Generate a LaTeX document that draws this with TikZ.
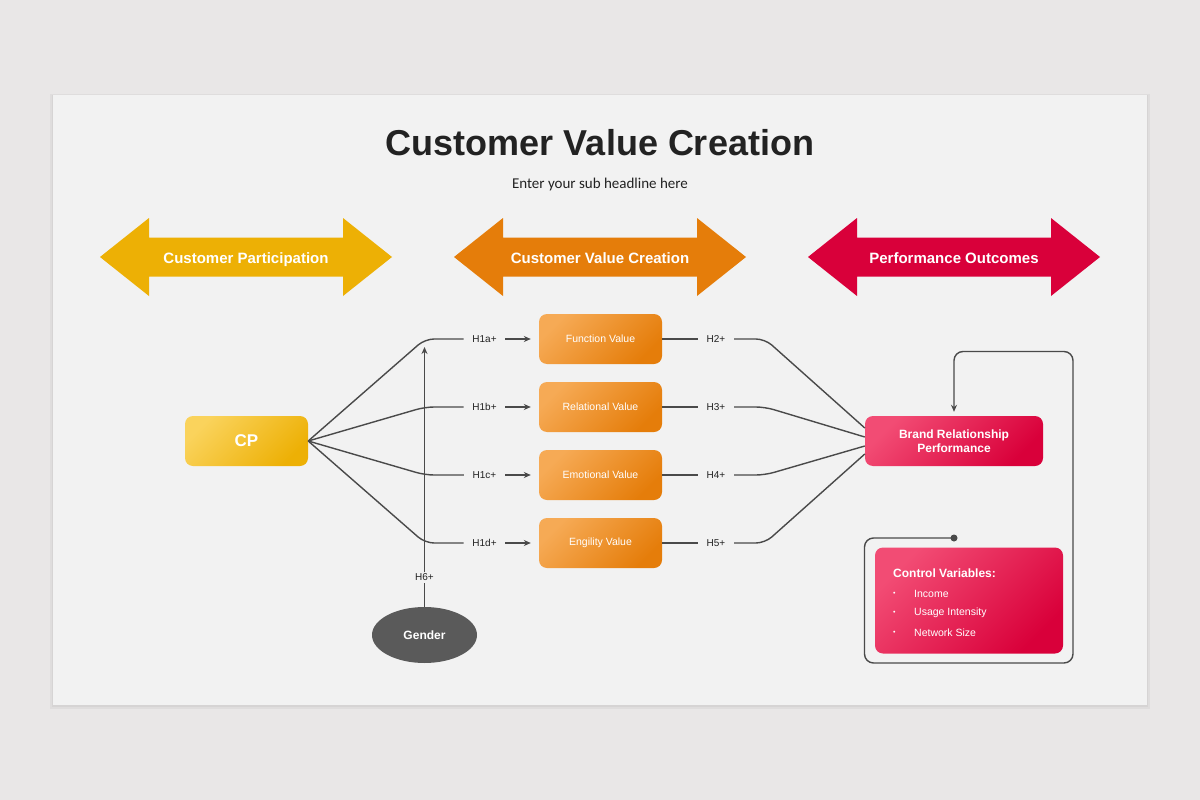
\documentclass[tikz,border=0pt]{standalone}
\usepackage{fontspec}
\setmainfont{Liberation Sans}
\newfontfamily\subfont{Carlito}
\usepackage{tikz}
\usetikzlibrary{positioning, calc, arrows.meta, shapes.geometric}
\usepackage{xcolor}
\definecolor{pagebg}{HTML}{E9E7E7}
\definecolor{cardbg}{HTML}{F2F2F2}
\definecolor{textdark}{HTML}{222222}
\definecolor{linegray}{HTML}{4A4A4A}
\definecolor{cpyel}{HTML}{EDB005}
\definecolor{cpyellt}{HTML}{FAD35C}
\definecolor{cvorg}{HTML}{E57D0A}
\definecolor{cvorglt}{HTML}{F6AA55}
\definecolor{pored}{HTML}{D9003A}
\definecolor{poredlt}{HTML}{F24C74}
\definecolor{gendergray}{HTML}{5A5A5A}

\begin{document}
\begin{tikzpicture}[
  x=1pt, y=-1pt,
  cpbox/.style={rounded corners=8pt, minimum width=123pt, minimum height=50pt, top color=cpyellt, bottom color=cpyel, shading angle=45, text=white, font=\fontsize{17}{20}\selectfont\bfseries},
  val/.style={rounded corners=8pt, minimum width=123pt, minimum height=50pt, top color=cvorglt, bottom color=cvorg, shading angle=45, text=white, font=\fontsize{10.5}{12}\selectfont},
  brp/.style={rounded corners=8pt, minimum width=178pt, minimum height=50pt, top color=poredlt, bottom color=pored, shading angle=45, text=white, align=center, font=\fontsize{12}{14}\selectfont\bfseries},
  hyp/.style={font=\fontsize{10}{12}\selectfont, text=textdark, inner sep=8.5pt},
  link/.style={draw=linegray, line width=1.4pt, rounded corners=9pt},
  cvtxt/.style={anchor=west, text=white, inner sep=0pt, font=\fontsize{10.5}{12}\selectfont},
  >={Stealth[length=7pt, width=6pt]}
]
  % Page and card
  \fill[pagebg] (0,0) rectangle (1200,800);
  \fill[black, opacity=0.04] (50,94) rectangle (1150,709);
  \fill[black, opacity=0.04] (52,95) rectangle (1148,707);
  \fill[cardbg] (53,95) rectangle (1147,705);

  % Headline
  \node[text=textdark, font=\fontsize{36}{40}\selectfont\bfseries] (title) at (600,143) {Customer Value Creation};
  \node[text=textdark, font=\subfont\fontsize{15}{18}\selectfont] (subtitle) at (600,185) {Enter your sub headline here};

  % Stage arrows
  \foreach \cx/\col/\nm/\txt in {246/cpyel/pa/Customer Participation, 600/cvorg/cva/Customer Value Creation, 954/pored/poa/Performance Outcomes} {
    \fill[\col] ({\cx-146},257) -- ({\cx-97},218) -- ({\cx-97},237.5) -- ({\cx+97},237.5) -- ({\cx+97},218)
      -- ({\cx+146},257) -- ({\cx+97},296) -- ({\cx+97},276.5) -- ({\cx-97},276.5) -- ({\cx-97},296) -- cycle;
    \node[anchor=base, text=white, font=\fontsize{15}{18}\selectfont\bfseries] (\nm) at (\cx,263.3) {\txt};
  }

  % Main blocks
  \node[cpbox] (cp) at (246.5,441) {CP};
  \node[val] (v1) at (600.5,339) {Function Value};
  \node[val] (v2) at (600.5,407) {Relational Value};
  \node[val] (v3) at (600.5,475) {Emotional Value};
  \node[val] (v4) at (600.5,543) {Engility Value};
  \node[brp] (brpbox) at (954,441) {Brand Relationship\\Performance};
  \node[ellipse, fill=gendergray, minimum width=105pt, minimum height=56pt, inner sep=0pt, text=white, font=\fontsize{12}{14}\selectfont\bfseries] (gender) at (424.5,635) {Gender};

  % Hypothesis labels
  \foreach \i/\h/\y in {1/H1a+/339, 2/H1b+/407, 3/H1c+/475, 4/H1d+/543} {
    \node[hyp] (ha\i) at (484.5,\y) {\h};
  }
  \foreach \i/\h/\y in {1/H2+/339, 2/H3+/407, 3/H4+/475, 4/H5+/543} {
    \node[hyp] (hb\i) at (716,\y) {\h};
  }
  \node[hyp, fill=cardbg, inner sep=1.5pt] (h6) at (424.5,577.5) {H6+};

  % CP to value labels
  \foreach \i/\y in {1/339, 2/407, 3/475, 4/543} {
    \draw[link] (cp.east) -- (425,\y) -- (ha\i.west);
    \draw[link, ->, shorten >=8pt, rounded corners=0pt] (ha\i.east) -- (v\i.west |- ha\i.east);
  }

  % Value labels to brand relationship
  \foreach \i/\y/\dy in {1/339/-13, 2/407/-4, 3/475/5, 4/543/13} {
    \draw[link, rounded corners=0pt] (v\i.east) -- (hb\i.west);
    \draw[link] (hb\i.east) -- (765,\y) -- ($(brpbox.west)+(0,\dy)$);
  }

  % Moderator
  \coordinate (h6top) at (424.5,347);
  \draw[link] (gender.north) -- (h6.south);
  \draw[link, ->] (h6.north) -- (h6top);

  % Control variables
  \node[rounded corners=8pt, minimum width=188pt, minimum height=106pt, top color=poredlt, bottom color=pored, shading angle=45] (ctrl) at (969,600.5) {};
  \node[anchor=west, text=white, inner sep=0pt, font=\fontsize{12}{14}\selectfont\bfseries] (ctitle) at (893,573.5) {Control Variables:};
  \foreach \i/\y/\txt in {1/593.5/Income, 2/613/Usage Intensity, 3/633/Network Size} {
    \node[cvtxt, font=\fontsize{7}{8}\selectfont] (cb\i) at (893,\y) {\textbullet};
    \node[cvtxt] (cv\i) at (914,\y) {\txt};
  }

  % Feedback loop
  \coordinate (ctrldot) at (954,538);
  \fill[linegray] (ctrldot) circle (3.5pt);
  \draw[link, ->, shorten >=4pt] (ctrldot) -- (864.5,538) -- (864.5,663) -- (1073,663) -- (1073,351.5) -- (brpbox.north |- 0,351.5) -- (brpbox.north);
\end{tikzpicture}
\end{document}
